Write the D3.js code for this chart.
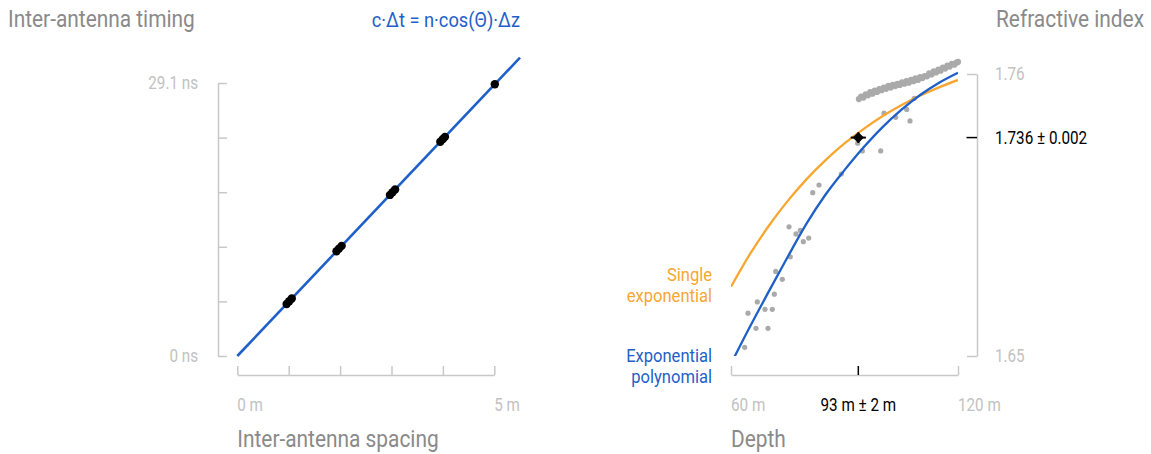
<!DOCTYPE html>
<html>
<head>
<meta charset="UTF-8">
<style>
  body { margin: 0; background: #fff; }
  text { font-family: Roboto, "Noto Sans", sans-serif; }
  .title { fill: #8a8a8a; font-size: 24px; }
  .tick-label { fill: #c2c2c2; font-size: 17.5px; }
  .axis path, .axis line { stroke: #c8c8c8; stroke-width: 1.5px; }
</style>
</head>
<body>
<script src="https://cdn.jsdelivr.net/npm/d3@7"></script>
<script>
// --- left panel: timing vs spacing
var spacing = [0.96, 1.01, 1.06, 1.93, 1.98, 2.03, 2.97, 3.02, 3.07, 3.95, 4.00, 4.04, 5.01];
var timing  = [5.55, 5.84, 6.13, 11.16, 11.45, 11.74, 17.17, 17.46, 17.75, 22.84, 23.13, 23.36, 28.97];
var fitSpacing = [0, 5.5];
var fitTiming = [0, 31.8];
var timingTicks = [0, 5.82, 11.64, 17.46, 23.28, 29.1];
var spacingTicks = [0, 1, 2, 3, 4, 5];

// --- right panel: refractive index vs depth
var curveDepth = [60, 65, 70, 75, 80, 85, 90, 95, 100, 105, 110, 115, 120];
var singleExp = [1.6770, 1.6897, 1.7008, 1.7105, 1.7190, 1.7264, 1.7329, 1.7385, 1.7435, 1.7478, 1.7516, 1.7548, 1.7577];
var expPoly   = [1.6470, 1.6614, 1.6752, 1.6887, 1.7017, 1.7130, 1.7225, 1.7313, 1.7392, 1.7460, 1.7518, 1.7566, 1.7605];
var dotDepth = [63.62, 64.49, 66.61, 66.95, 68.99, 69.78, 70.92, 71.45, 71.82, 73.56, 75.33, 75.67, 77.18, 78.32,
                79.11, 80.54, 81.60, 83.26, 89.15, 93.49, 94.71, 99.57, 100.44, 103.53, 106.44, 107.31, 108.45];
var dotIndex = [1.6534, 1.6667, 1.6608, 1.6711, 1.6682, 1.6608, 1.6682, 1.6741, 1.6830, 1.6799, 1.7004, 1.6887, 1.6976, 1.6990,
                1.6946, 1.6960, 1.7137, 1.7167, 1.7210, 1.7330, 1.7300, 1.7300, 1.7447, 1.7431, 1.7462, 1.7417, 1.7505];
var bandDepth = [93.8, 94.4, 95.0, 95.6, 96.2, 96.8, 97.4, 98.0, 98.6, 99.2, 99.8, 100.4, 101.0, 101.6, 102.2, 102.8,
                 103.4, 104.0, 104.6, 105.2, 105.8, 106.4, 107.0, 107.6, 108.2, 108.8, 109.4, 110.0, 110.6, 111.2,
                 111.8, 112.4, 113.0, 113.6, 114.2, 114.8, 115.4, 116.0, 116.6, 117.2, 117.8, 118.4, 119.0, 119.6, 120.0];
var bandIndex = [1.7502, 1.7512, 1.7508, 1.7521, 1.7517, 1.7529, 1.7523, 1.7535, 1.7530, 1.7541, 1.7537, 1.7547, 1.7542,
                 1.7554, 1.7547, 1.7558, 1.7553, 1.7562, 1.7557, 1.7567, 1.7562, 1.7572, 1.7566, 1.7577, 1.7572, 1.7583,
                 1.7577, 1.7588, 1.7584, 1.7592, 1.7591, 1.7603, 1.7598, 1.7610, 1.7606, 1.7617, 1.7613, 1.7625, 1.7621,
                 1.7633, 1.7629, 1.7640, 1.7636, 1.7644, 1.7647];
var depthTicks = [60, 120];
var indexTicks = [1.65, 1.76];
var result = { depth: 93.65, depthErr: 2, index: 1.7352, indexErr: 0.002 };

var blue = "#1f60c8", orange = "#f7a630", grey = "#aaaaaa";
var squeeze = 0.87;

var svg = d3.select("body").append("svg").attr("width", 1151).attr("height", 454);

// text squeezed horizontally to mimic the narrow face of the original
function label(x, y, str, cls, anchor, color, size, sx) {
    var t = svg.append("text")
        .attr("class", cls)
        .attr("transform", "translate(" + x + "," + y + ") scale(" + (sx || squeeze) + ",1)")
        .attr("text-anchor", anchor || "start")
        .text(str);
    if (color) t.style("fill", color);
    if (size) t.style("font-size", size + "px");
    return t;
}

// ---------- left panel ----------
var x1 = d3.scaleLinear().domain([0, 5]).range([237.3, 494.3]);
var y1 = d3.scaleLinear().domain([0, 29.1]).range([356, 83]);

svg.append("g").attr("class", "axis").attr("transform", "translate(218,0)")
    .call(d3.axisRight(y1).tickValues(timingTicks).tickSize(9).tickSizeOuter(0).tickFormat(""));
svg.append("g").attr("class", "axis").attr("transform", "translate(0,375)")
    .call(d3.axisTop(x1).tickValues(spacingTicks).tickSize(9).tickSizeOuter(0).tickFormat(""));
svg.selectAll(".axis .domain").attr("fill", "none");

svg.append("path")
    .datum(d3.zip(fitSpacing, fitTiming))
    .attr("fill", "none").attr("stroke", blue).attr("stroke-width", 2.6)
    .attr("d", d3.line().x(function(d) { return x1(d[0]); }).y(function(d) { return y1(d[1]); }));

svg.append("g").selectAll("circle")
    .data(d3.zip(spacing, timing))
    .enter().append("circle")
    .attr("cx", function(d) { return x1(d[0]); })
    .attr("cy", function(d) { return y1(d[1]); })
    .attr("r", 4.2)
    .attr("fill", "#000");

label(8, 27, "Inter-antenna timing", "title");
label(520, 27, "c·Δt = n·cos(Θ)·Δz", "title", "end", blue, 21);
label(198, y1(29.1) + 6, "29.1 ns", "tick-label", "end");
label(198, y1(0) + 6, "0 ns", "tick-label", "end");
label(x1(0), 410.5, "0 m", "tick-label");
label(x1(5), 410.5, "5 m", "tick-label");
label(x1(0), 447, "Inter-antenna spacing", "title");

// ---------- right panel ----------
var x2 = d3.scaleLinear().domain([60, 120]).range([731, 958]);
var y2 = d3.scaleLinear().domain([1.65, 1.76]).range([356, 74]);

svg.append("g").attr("class", "axis").attr("transform", "translate(977,0)")
    .call(d3.axisLeft(y2).tickValues(indexTicks).tickSize(10).tickSizeOuter(0).tickFormat(""));
svg.append("g").attr("class", "axis").attr("transform", "translate(0,375)")
    .call(d3.axisTop(x2).tickValues(depthTicks).tickSize(9).tickSizeOuter(0).tickFormat(""));
svg.selectAll(".axis .domain").attr("fill", "none");

// result ticks in black
svg.append("line").attr("x1", 966.5).attr("x2", 977).attr("y1", y2(result.index)).attr("y2", y2(result.index))
    .attr("stroke", "#000").attr("stroke-width", 1.5);
svg.append("line").attr("x1", x2(result.depth)).attr("x2", x2(result.depth)).attr("y1", 366).attr("y2", 375)
    .attr("stroke", "#000").attr("stroke-width", 1.5);

svg.append("clipPath").attr("id", "plot2").append("rect")
    .attr("x", x2(60)).attr("y", 0).attr("width", x2(120) - x2(60)).attr("height", y2(1.65));

var dots = svg.append("g");
dots.selectAll("circle.scatter")
    .data(d3.zip(dotDepth, dotIndex))
    .enter().append("circle").attr("class", "scatter")
    .attr("cx", function(d) { return x2(d[0]); }).attr("cy", function(d) { return y2(d[1]); })
    .attr("r", 2.6).attr("fill", grey);
dots.selectAll("circle.band")
    .data(d3.zip(bandDepth, bandIndex))
    .enter().append("circle").attr("class", "band")
    .attr("cx", function(d) { return x2(d[0]); }).attr("cy", function(d) { return y2(d[1]); })
    .attr("r", 3.1).attr("fill", grey);

var curve = d3.line().curve(d3.curveMonotoneX)
    .x(function(d) { return x2(d[0]); }).y(function(d) { return y2(d[1]); });
var curves = svg.append("g").attr("clip-path", "url(#plot2)");
curves.append("path").datum(d3.zip(curveDepth, singleExp))
    .attr("fill", "none").attr("stroke", orange).attr("stroke-width", 2.3).attr("d", curve);
curves.append("path").datum(d3.zip(curveDepth, expPoly))
    .attr("fill", "none").attr("stroke", blue).attr("stroke-width", 2.3).attr("d", curve);

// result marker with error bars
var mx = x2(result.depth), my = y2(result.index);
svg.append("line").attr("x1", x2(result.depth - result.depthErr)).attr("x2", x2(result.depth + result.depthErr))
    .attr("y1", my).attr("y2", my).attr("stroke", "#000").attr("stroke-width", 2);
svg.append("line").attr("x1", mx).attr("x2", mx)
    .attr("y1", y2(result.index - result.indexErr)).attr("y2", y2(result.index + result.indexErr))
    .attr("stroke", "#000").attr("stroke-width", 2);
svg.append("path").attr("d", d3.symbol().type(d3.symbolDiamond2).size(80))
    .attr("fill", "#000").attr("transform", "translate(" + mx + "," + my + ")");

label(996, 26.5, "Refractive index", "title");
label(995, y2(1.76) + 6, "1.76", "tick-label");
label(995, y2(result.index) + 6, "1.736 ± 0.002", "tick-label", "start", "#000");
label(995, y2(1.65) + 6, "1.65", "tick-label");
label(x2(60), 410.5, "60 m", "tick-label");
label(x2(120), 410.5, "120 m", "tick-label");
label(x2(result.depth), 410.5, "93 m ± 2 m", "tick-label", "middle", "#000");
label(x2(60), 447, "Depth", "title");

label(712, 281, "Single", "title", "end", orange, 18, 0.92);
label(712, 302, "exponential", "title", "end", orange, 18, 0.92);
label(712, 361.5, "Exponential", "title", "end", blue, 18, 0.92);
label(712, 382.5, "polynomial", "title", "end", blue, 18, 0.92);
</script>
</body>
</html>
